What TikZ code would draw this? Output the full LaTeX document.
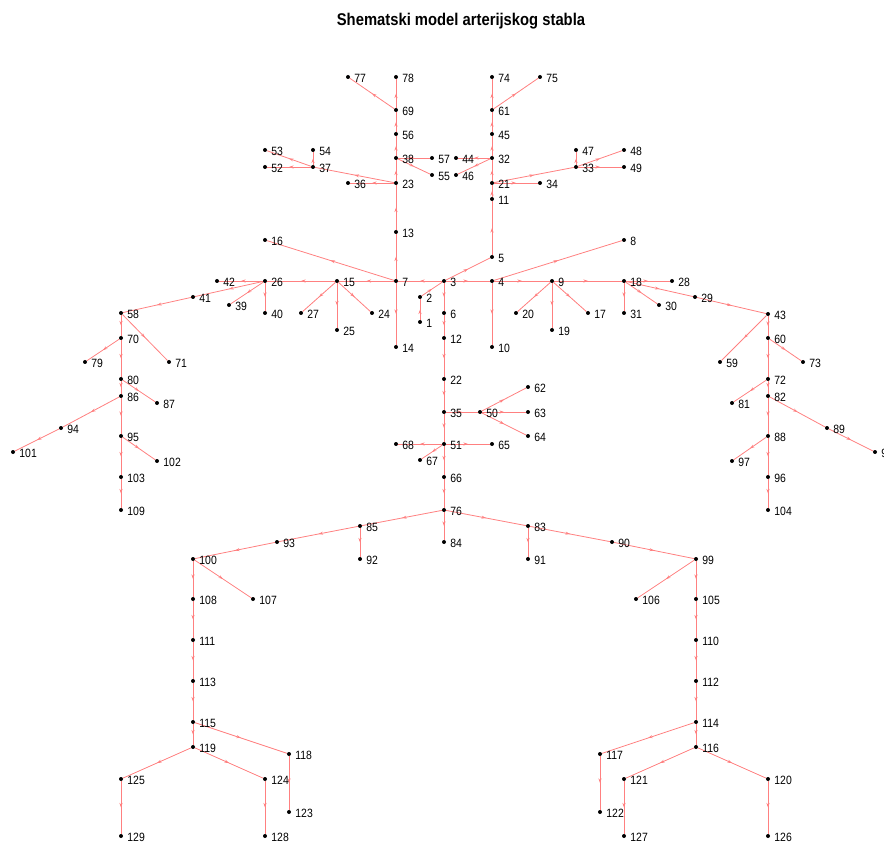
\documentclass[tikz,border=0pt]{standalone}
\usepackage{fontspec}
\setmainfont{Liberation Sans}[FakeStretch=0.87]
\usetikzlibrary{arrows.meta,decorations.markings,backgrounds}
\definecolor{arterija}{HTML}{FF8080}
\definecolor{cvorCrna}{HTML}{000000}

\begin{document}
\begin{tikzpicture}[x=1pt,y=-1pt,>=Stealth,
  cvor/.style={circle,fill=cvorCrna,inner sep=0pt,minimum size=4pt},
  oznaka/.style={font=\fontsize{12}{14}\selectfont,inner sep=0pt,label distance=4pt,yshift=-1pt},
  grana/.style={arterija,line width=.8pt,postaction={decorate},
    decoration={markings,mark=at position .5 with {\arrow{Stealth[length=4.5pt,width=3pt]}}}}]
  \useasboundingbox (0,0) rectangle (884,842);
  \clip (0,0) rectangle (884,842);
  \node[font=\fontsize{17}{20}\selectfont\bfseries] (naslov) at (461,21) {Shematski model arterijskog stabla};
  \foreach \n/\x/\y in {1/420/322,2/420/297,3/444/281,4/492/281,5/492/257,6/444/313,7/396/281,
    8/624/240,9/552/281,10/492/347,11/492/199,12/444/338,13/396/232,14/396/347,15/337/281,
    16/265/240,17/588/313,18/624/281,19/552/330,20/516/313,21/492/183,22/444/379,23/396/183,
    24/372/313,25/337/330,26/265/281,27/301/313,28/672/281,29/695/297,30/659/305,31/624/313,
    32/492/158,33/576/167,34/540/183,35/444/412,36/348/183,37/313/167,38/396/158,39/229/305,
    40/265/313,41/193/297,42/217/281,43/768/314,44/456/158,45/492/134,46/456/175,47/576/150,
    48/624/150,49/624/167,50/480/412,51/444/444,52/265/167,53/265/150,54/313/150,55/432/175,
    56/396/134,57/432/158,58/121/313,59/720/362,60/768/338,61/492/110,62/528/387,63/528/412,
    64/528/436,65/492/444,66/444/477,67/420/460,68/396/444,69/396/110,70/121/338,71/169/362,
    72/768/379,73/803/362,74/492/77,75/540/77,76/444/510,77/348/77,78/396/77,79/85/362,
    80/121/379,81/732/403,82/768/396,83/528/526,84/444/542,85/360/526,86/121/396,87/157/403,
    88/768/436,89/827/428,90/612/542,91/528/559,92/360/559,93/277/542,94/61/428,95/121/436,
    96/768/477,97/732/461,98/875/452,99/696/559,100/193/559,101/13/452,102/157/461,103/121/477,
    104/768/510,105/696/599,106/636/599,107/253/599,108/193/599,109/121/510,110/696/640,
    111/193/640,112/696/681,113/193/681,114/696/722,115/193/722,116/696/747,117/600/754,
    118/289/754,119/193/747,120/768/779,121/624/779,122/600/812,123/289/812,124/265/779,
    125/121/779,126/768/836,127/624/836,128/265/836,129/121/836}
    \node[cvor,label={[oznaka]0:\n}] (n\n) at (\x,\y) {};
  \begin{scope}[on background layer]
    \foreach \a/\b in {1/2,2/3,3/4,3/5,3/6,3/7,4/8,4/9,4/10,5/11,6/12,7/13,7/14,7/15,7/16,
      9/17,9/18,9/19,9/20,11/21,12/22,13/23,15/24,15/25,15/26,15/27,18/28,18/29,18/30,18/31,
      21/32,21/33,21/34,22/35,23/36,23/37,23/38,26/39,26/40,26/41,26/42,29/43,32/44,32/45,
      32/46,33/47,33/48,33/49,35/50,35/51,37/52,37/53,37/54,38/55,38/56,38/57,41/58,43/59,
      43/60,45/61,50/62,50/63,50/64,51/65,51/66,51/67,51/68,56/69,58/70,58/71,60/72,60/73,
      61/74,61/75,66/76,69/77,69/78,70/79,70/80,72/81,72/82,76/83,76/84,76/85,80/86,80/87,
      82/88,82/89,83/90,83/91,85/92,85/93,86/94,86/95,88/96,88/97,89/98,90/99,93/100,94/101,
      95/102,95/103,96/104,99/105,99/106,100/107,100/108,103/109,105/110,108/111,110/112,
      111/113,112/114,113/115,114/116,114/117,115/118,115/119,116/120,116/121,117/122,
      118/123,119/124,119/125,120/126,121/127,124/128,125/129}
      \draw[grana] (n\a) -- (n\b);
  \end{scope}
\end{tikzpicture}
\end{document}
